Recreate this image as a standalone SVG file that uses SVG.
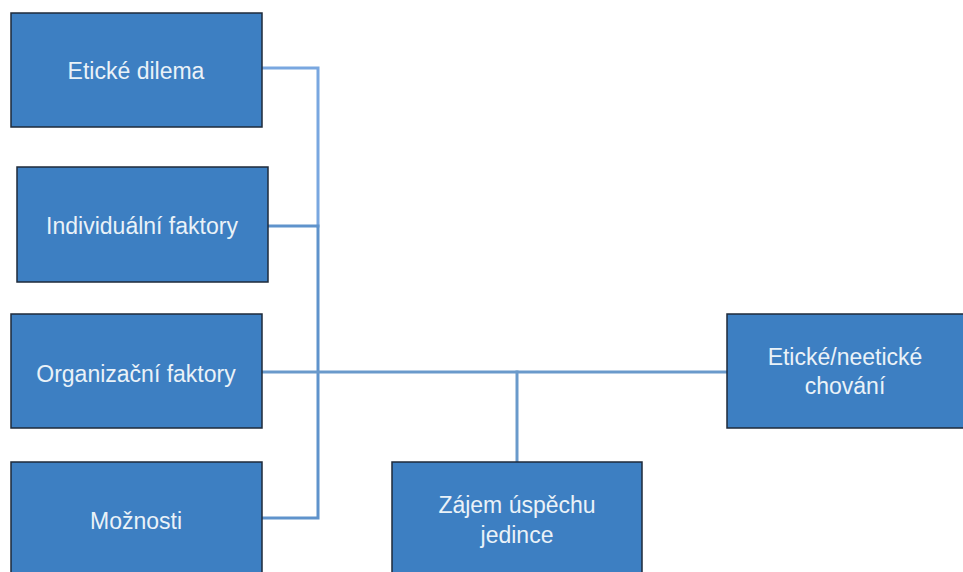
<svg xmlns="http://www.w3.org/2000/svg" width="963" height="572" viewBox="0 0 963 572">
<style>
.box{fill:#3d7fc2;stroke:#1e2a3a;stroke-width:1.5}
.t{font-family:"Liberation Sans",Arial,sans-serif;font-size:23px;fill:#eaf2f8;text-anchor:middle}
.c{fill:none;stroke-width:3;stroke-linecap:square}
</style>
<rect width="963" height="572" fill="#ffffff"/>
<g id="connectors">
<path class="c" d="M262,68 H318 V226" stroke="#79a7e0"/>
<path class="c" d="M268,226 H318 V518 H262" stroke="#5f93cc"/>
<path class="c" d="M262,372 H727" stroke="#6a9acb"/>
<path class="c" d="M517,372 V462" stroke="#6a9acb"/>
</g>
<g id="n1"><rect class="box" x="11" y="13" width="251" height="114"/><text class="t" x="136" y="79">Etické dilema</text></g>
<g id="n2"><rect class="box" x="17" y="167" width="251" height="115"/><text class="t" x="142" y="234">Individuální faktory</text></g>
<g id="n3"><rect class="box" x="11" y="314" width="251" height="114"/><text class="t" x="136" y="382">Organizační faktory</text></g>
<g id="n4"><rect class="box" x="11" y="462" width="251" height="115"/><text class="t" x="136" y="529">Možnosti</text></g>
<g id="n5"><rect class="box" x="392" y="462" width="250" height="115"/><text class="t" x="517" y="513">Zájem úspěchu</text><text class="t" x="517" y="543">jedince</text></g>
<g id="n6"><rect class="box" x="727" y="314" width="240" height="114"/><text class="t" x="845" y="365">Etické/neetické</text><text class="t" x="845" y="394">chování</text></g>
</svg>
